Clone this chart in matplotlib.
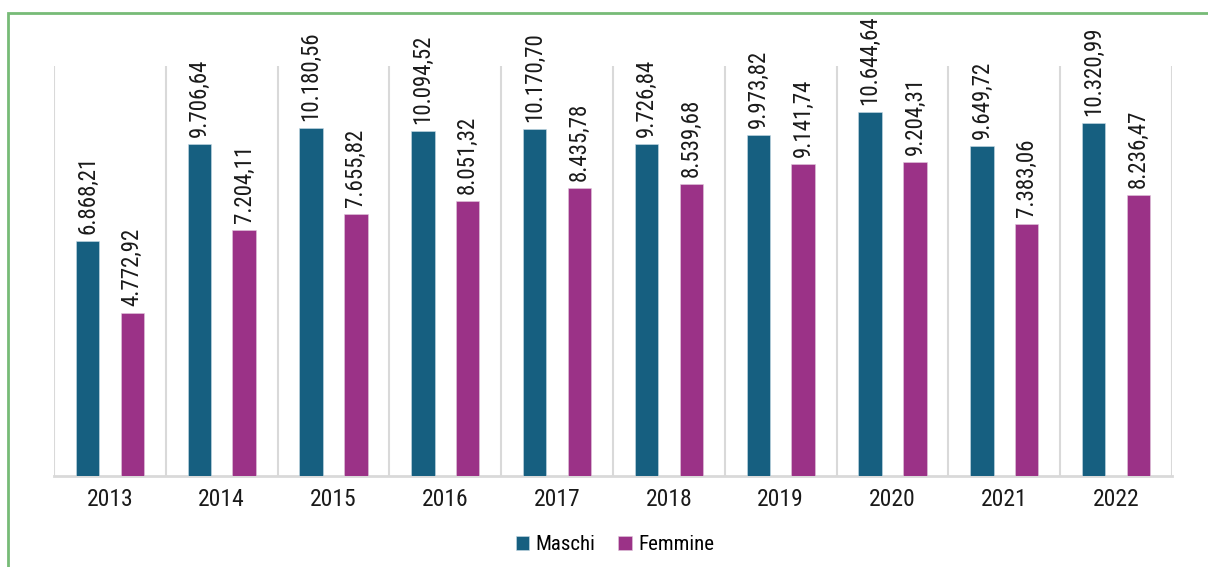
import matplotlib
matplotlib.use("Agg")
import matplotlib.pyplot as plt
from matplotlib.patches import Rectangle
import numpy as np

years = ["2013", "2014", "2015", "2016", "2017", "2018", "2019", "2020", "2021", "2022"]
maschi = [6868.21, 9706.64, 10180.56, 10094.52, 10170.70, 9726.84, 9973.82, 10644.64, 9649.72, 10320.99]
femmine = [4772.92, 7204.11, 7655.82, 8051.32, 8435.78, 8539.68, 9141.74, 9204.31, 7383.06, 8236.47]
series_names = ["Maschi", "Femmine"]
colors = ["#165f80", "#9b3287"]

FONT = ["Roboto Condensed", "DejaVu Sans Condensed", "Liberation Sans Narrow", "Roboto", "DejaVu Sans"]
plt.rcParams["font.family"] = FONT
plt.rcParams["font.stretch"] = "condensed"

def fmt(v):
    s = f"{v:,.2f}"
    return s.replace(",", "X").replace(".", ",").replace("X", ".")

fig = plt.figure(figsize=(12.08, 5.67), dpi=100)
ax = fig.add_axes([54 / 1208, (567 - 476) / 567, (1172 - 54) / 1208, (476 - 66) / 567])

x = np.arange(len(years))
w = 0.21
b1 = ax.bar(x - 0.2, maschi, w, color=colors[0], edgecolor="#c8dbe6", linewidth=0.4, label=series_names[0], zorder=3)
b2 = ax.bar(x + 0.2, femmine, w, color=colors[1], edgecolor="#e0c8dc", linewidth=0.4, label=series_names[1], zorder=3)

for bars, vals in ((b1, maschi), (b2, femmine)):
    for r, v in zip(bars, vals):
        ax.annotate(fmt(v), (r.get_x() + r.get_width() / 2, v), xytext=(0, 5),
                    textcoords="offset points", rotation=90, ha="center", va="bottom",
                    fontsize=16.5, color="#1a1a1a")

ax.set_xlim(-0.5, len(years) - 0.5)
ax.set_ylim(0, 12000)
for b in np.arange(-0.5, len(years), 1.0):
    ax.axvline(b, color="#d9d9d9", linewidth=1.5, zorder=1)
ax.set_xticks(x)
ax.set_xticklabels(years, fontsize=17, color="#1a1a1a")
ax.tick_params(axis="x", length=0, pad=9)
ax.set_yticks([])
for s in ["top", "right", "left"]:
    ax.spines[s].set_visible(False)
ax.spines["bottom"].set_color("#d9d9d9")
ax.spines["bottom"].set_linewidth(2)

leg = fig.legend(loc="center", bbox_to_anchor=(615 / 1208, (567 - 545) / 567), ncol=2, frameon=False,
                 fontsize=15, handlelength=0.65, handleheight=0.65, handletextpad=0.3, columnspacing=1.1)

fig.patches.append(Rectangle((8 / 1208, -0.1), 1.2, (567 - 13) / 567 + 0.1, transform=fig.transFigure,
                             fill=False, edgecolor="#77bb77", linewidth=2))

fig.savefig("out.png", dpi=100)
